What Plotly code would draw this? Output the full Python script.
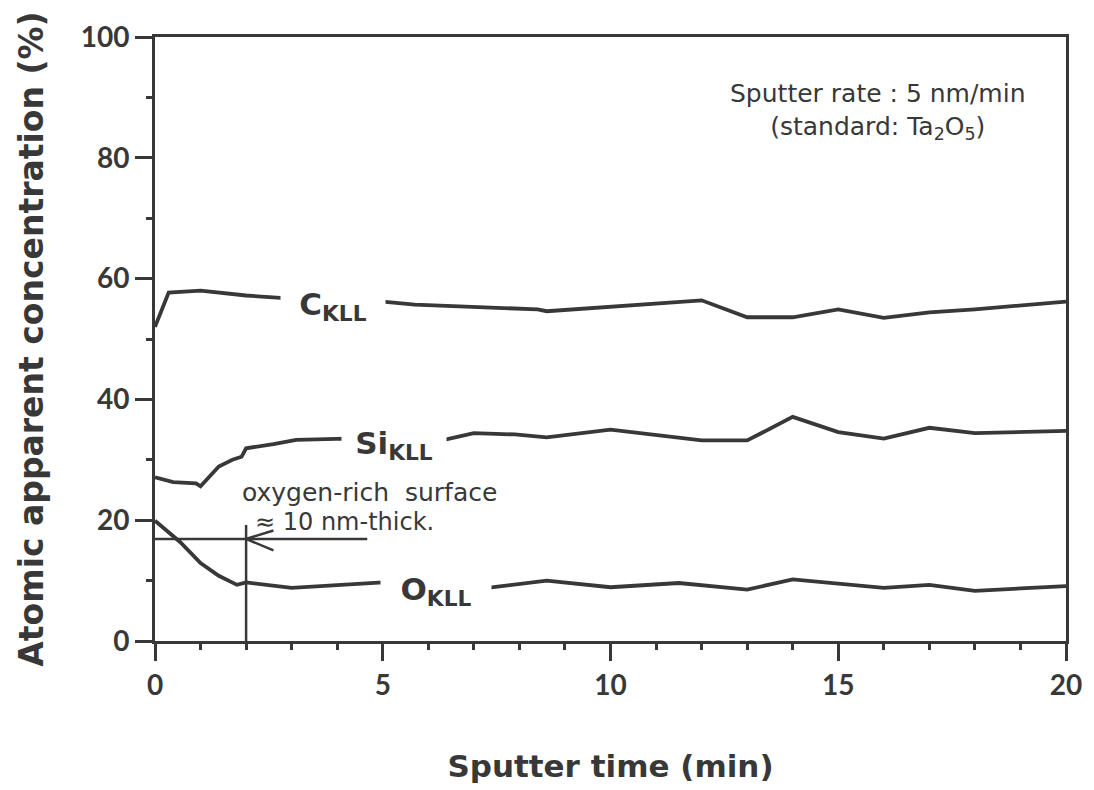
import plotly.graph_objects as go

# Depth profile: atomic apparent concentration (%) vs sputter time (min)
c_time = [0, 0.3, 1.0, 2.0, 3.0, 4.0, 5.0, 5.7, 7.0, 8.4, 8.6, 10.0, 11.5, 12.0, 13.0, 14.0, 15.0, 16.0, 17.0, 18.0, 20.0]
c_conc = [52.0, 57.7, 58.0, 57.2, 56.7, 56.4, 56.2, 55.7, 55.3, 54.9, 54.6, 55.3, 56.0, 56.4, 53.6, 53.6, 54.9, 53.5, 54.4, 54.9, 56.2]

si_time = [0, 0.4, 0.9, 1.0, 1.4, 1.7, 1.9, 2.0, 2.6, 3.1, 4.2, 6.3, 7.0, 7.9, 8.6, 10.0, 12.0, 13.0, 14.0, 15.0, 16.0, 17.0, 18.0, 20.0]
si_conc = [27.1, 26.3, 26.1, 25.6, 28.9, 30.0, 30.5, 31.9, 32.6, 33.3, 33.5, 33.2, 34.4, 34.2, 33.7, 35.0, 33.2, 33.2, 37.1, 34.6, 33.5, 35.3, 34.4, 34.8]

o_time = [0, 0.55, 1.0, 1.4, 1.8, 2.0, 3.0, 5.0, 7.3, 8.6, 10.0, 11.5, 13.0, 14.0, 16.0, 17.0, 18.0, 20.0]
o_conc = [19.9, 16.4, 12.9, 10.8, 9.3, 9.7, 8.8, 9.7, 8.8, 10.0, 8.9, 9.6, 8.5, 10.2, 8.8, 9.3, 8.3, 9.1]

x_ticks = [0, 5, 10, 15, 20]
y_ticks = [0, 20, 40, 60, 80, 100]

# Oxygen-rich surface marker (time in min, level in %)
surface_time = 2.0
surface_top = 19.2
arrow_level = 16.9
arrow_end = 4.66

INK = "#383838"
BOLD_FONT = "DejaVu Sans"
TEXT_FONT = "DejaVu Sans"
TICK_FONT = "Lato"

fig = go.Figure()
for t, c in [(c_time, c_conc), (si_time, si_conc), (o_time, o_conc)]:
    fig.add_trace(go.Scatter(x=t, y=c, mode="lines",
                             line=dict(color=INK, width=3.8),
                             showlegend=False, hoverinfo="skip"))

# marker lines for the oxygen-rich layer
fig.add_shape(type="line", x0=surface_time, x1=surface_time, y0=0, y1=surface_top,
              line=dict(color=INK, width=2.5))
fig.add_shape(type="line", x0=0, x1=arrow_end, y0=arrow_level, y1=arrow_level,
              line=dict(color=INK, width=2.5))
fig.add_shape(type="path",
              path=f"M {surface_time + 0.6},{arrow_level + 1.4} L {surface_time},{arrow_level} "
                   f"L {surface_time + 0.6},{arrow_level - 1.9}",
              line=dict(color=INK, width=2.5))

# series labels (white boxes break the curves)
labels = [
    ("C", 3.91, 55.4, 102, 48),
    ("Si", 5.25, 32.4, 102, 48),
    ("O", 6.16, 8.2, 108, 48),
]
for name, lx, ly, w, h in labels:
    fig.add_annotation(x=lx, y=ly, xref="x", yref="y", showarrow=False,
                       text=f"{name}<sub>KLL</sub>", width=w, height=h,
                       bgcolor="white", align="center",
                       font=dict(family=BOLD_FONT, size=31, color=INK, weight="bold"))

fig.add_annotation(x=4.70, y=24.6, xref="x", yref="y", showarrow=False,
                   text="oxygen-rich  surface",
                   font=dict(family=TEXT_FONT, size=25, color=INK))
fig.add_annotation(x=4.15, y=19.7, xref="x", yref="y", showarrow=False,
                   text="≈ 10 nm-thick.",
                   font=dict(family=TEXT_FONT, size=24, color=INK))

fig.add_annotation(x=15.87, y=87.6, xref="x", yref="y", showarrow=False,
                   text="Sputter rate : 5 nm/min<br>(standard: Ta<sub>2</sub>O<sub>5</sub>)",
                   align="center",
                   font=dict(family=TEXT_FONT, size=25, color=INK))

axis_common = dict(showline=True, linecolor=INK, linewidth=3, mirror=True,
                   ticks="outside", ticklen=17, tickwidth=3, tickcolor=INK,
                   showgrid=False, zeroline=False,
                   tickfont=dict(family=TICK_FONT, size=28, color=INK, weight="bold"))

fig.update_xaxes(range=[0, 20], tickvals=x_ticks,
                 minor=dict(dtick=1, ticks="outside", ticklen=6, tickwidth=3, tickcolor=INK),
                 title=dict(text="Sputter time (min)", standoff=56,
                            font=dict(family=BOLD_FONT, size=31, color=INK, weight="bold")),
                 **axis_common)
fig.update_yaxes(range=[0, 100], tickvals=y_ticks,
                 minor=dict(dtick=10, ticks="outside", ticklen=6, tickwidth=3, tickcolor=INK),
                 title=dict(text="Atomic apparent concentration (%)", standoff=28,
                            font=dict(family=BOLD_FONT, size=33, color=INK, weight="bold")),
                 **axis_common)

fig.update_layout(width=1094, height=790,
                  margin=dict(l=155, r=24, t=37, b=148),
                  paper_bgcolor="white", plot_bgcolor="white")

fig.write_html("out.html")
